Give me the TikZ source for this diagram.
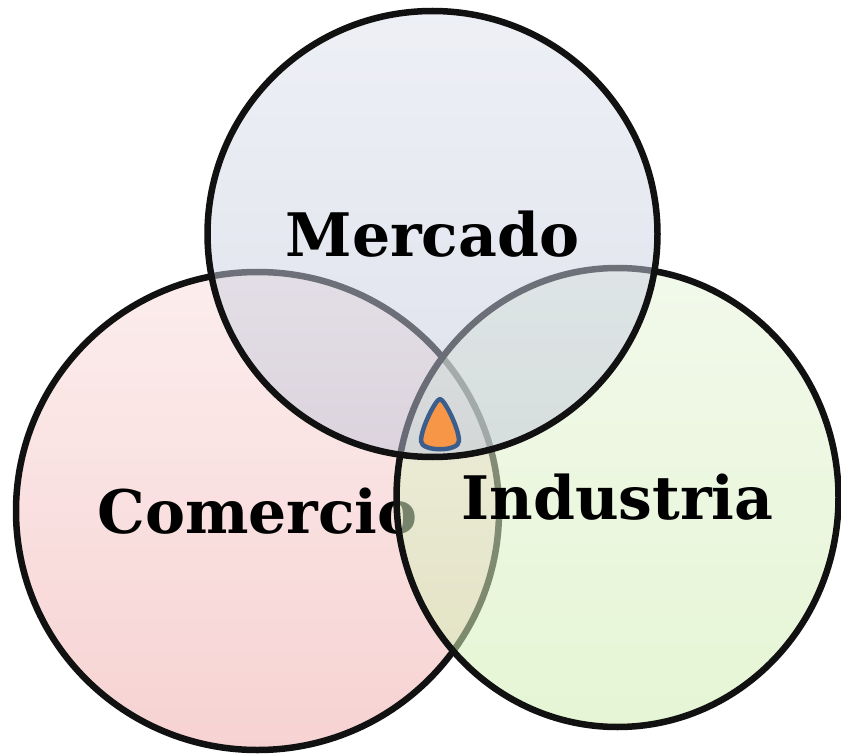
\documentclass[tikz,border=0pt]{standalone}
\usepackage{fontspec}
\setmainfont{DejaVu Serif}
\usepackage{tikz}
\usetikzlibrary{shapes.geometric}
\definecolor{ink}{HTML}{111111}
\definecolor{comtop}{HTML}{FCEDED}
\definecolor{combot}{HTML}{F7D2D2}
\definecolor{indtop}{HTML}{E7F4DA}
\definecolor{indbot}{HTML}{D1EDB1}
\definecolor{mertop}{HTML}{DDE1ED}
\definecolor{merbot}{HTML}{BFC5D9}
\definecolor{dropfill}{HTML}{F79646}
\definecolor{dropline}{HTML}{3B5E8C}
\tikzset{
  ring/.style={ellipse, draw=ink, line width=6.5pt, inner sep=0pt, text=black, text opacity=1,
    font=\bfseries\fontsize{60}{70}\selectfont},
  com/.style={ring, top color=comtop, bottom color=combot, minimum width=483pt, minimum height=478pt},
  ind/.style={ring, top color=indtop, bottom color=indbot, fill opacity=0.55, minimum width=442pt, minimum height=459pt},
  mer/.style={ring, top color=mertop, bottom color=merbot, fill opacity=0.5, minimum width=450pt, minimum height=446pt},
  drop/.style={draw=dropline, fill=dropfill, line width=4.5pt, line join=round},
}
\begin{document}
\begin{tikzpicture}[x=1pt, y=-1pt]
  \useasboundingbox (0,0) rectangle (841,754);
  \node[com] (com) at (257.5,511) {Comercio};
  \node[ind] (ind) at (617.5,497.5) {Industria};
  \node[mer] (mer) at (432.5,234) {Mercado};
  % gota en el centro
  \draw[drop] (440,399) .. controls (444,399) and (459,428) .. (459,441)
    .. controls (459,452) and (421,452) .. (421,441)
    .. controls (421,428) and (436,399) .. (440,399) -- cycle;
\end{tikzpicture}
\end{document}
